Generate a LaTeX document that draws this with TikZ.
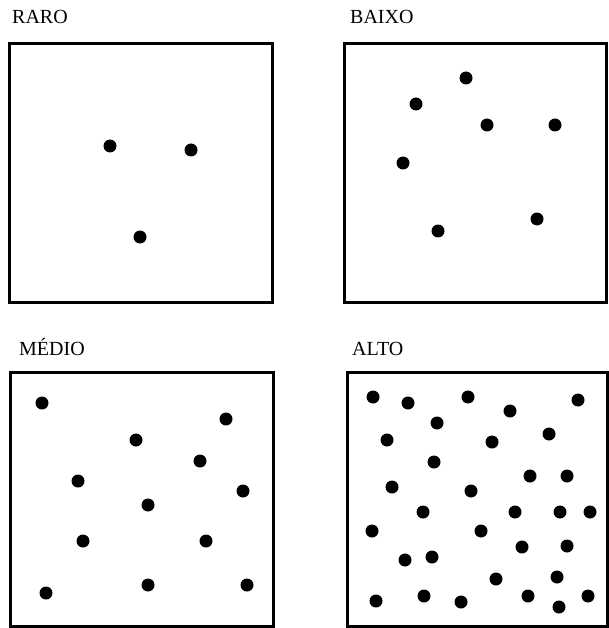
\documentclass[tikz,border=0pt]{standalone}
\usepackage{fontspec}
\setmainfont{Liberation Serif}
\usetikzlibrary{positioning}

\tikzset{
  panel/.style={draw,line width=3pt,rectangle,inner sep=0pt},
  lbl/.style={anchor=base west,inner sep=0pt,font=\fontsize{20}{24}\selectfont},
  dot/.style={fill=black}
}

\begin{document}
\begin{tikzpicture}[x=1pt,y=-1pt]
  \useasboundingbox (0,0) rectangle (609,628);

  % four panels
  \draw[panel] (9,44) rectangle (272,302);
  \draw[panel] (344,44) rectangle (606,302);
  \draw[panel] (10,372) rectangle (273,626);
  \draw[panel] (347,372) rectangle (607,626);

  \node[lbl] (raro) at (12,24) {RARO};
  \node[lbl] (baixo) at (350,24) {BAIXO};
  \node[lbl] (medio) at (19,355) {MÉDIO};
  \node[lbl] (alto) at (352,355) {ALTO};

  % RARO
  \foreach \x/\y in {110/146, 191/150, 140/237}
    \fill[dot] (\x,\y) circle[radius=6.5pt];

  % BAIXO
  \foreach \x/\y in {466/78, 416/104, 487/125, 555/125, 403/163, 537/219, 438/231}
    \fill[dot] (\x,\y) circle[radius=6.5pt];

  % MEDIO
  \foreach \x/\y in {42/403, 226/419, 136/440, 200/461, 78/481, 243/491,
                     148/505, 83/541, 206/541, 46/593, 148/585, 247/585}
    \fill[dot] (\x,\y) circle[radius=6.5pt];

  % ALTO
  \foreach \x/\y in {373/397, 408/403, 468/397, 510/411, 578/400, 437/423,
                     387/440, 492/442, 549/434, 434/462, 530/476, 567/476,
                     392/487, 471/491, 423/512, 515/512, 560/512, 590/512,
                     372/531, 481/531, 522/547, 567/546, 405/560, 432/557,
                     496/579, 557/577, 376/601, 424/596, 461/602, 528/596,
                     559/607, 588/596}
    \fill[dot] (\x,\y) circle[radius=6.5pt];
\end{tikzpicture}
\end{document}
